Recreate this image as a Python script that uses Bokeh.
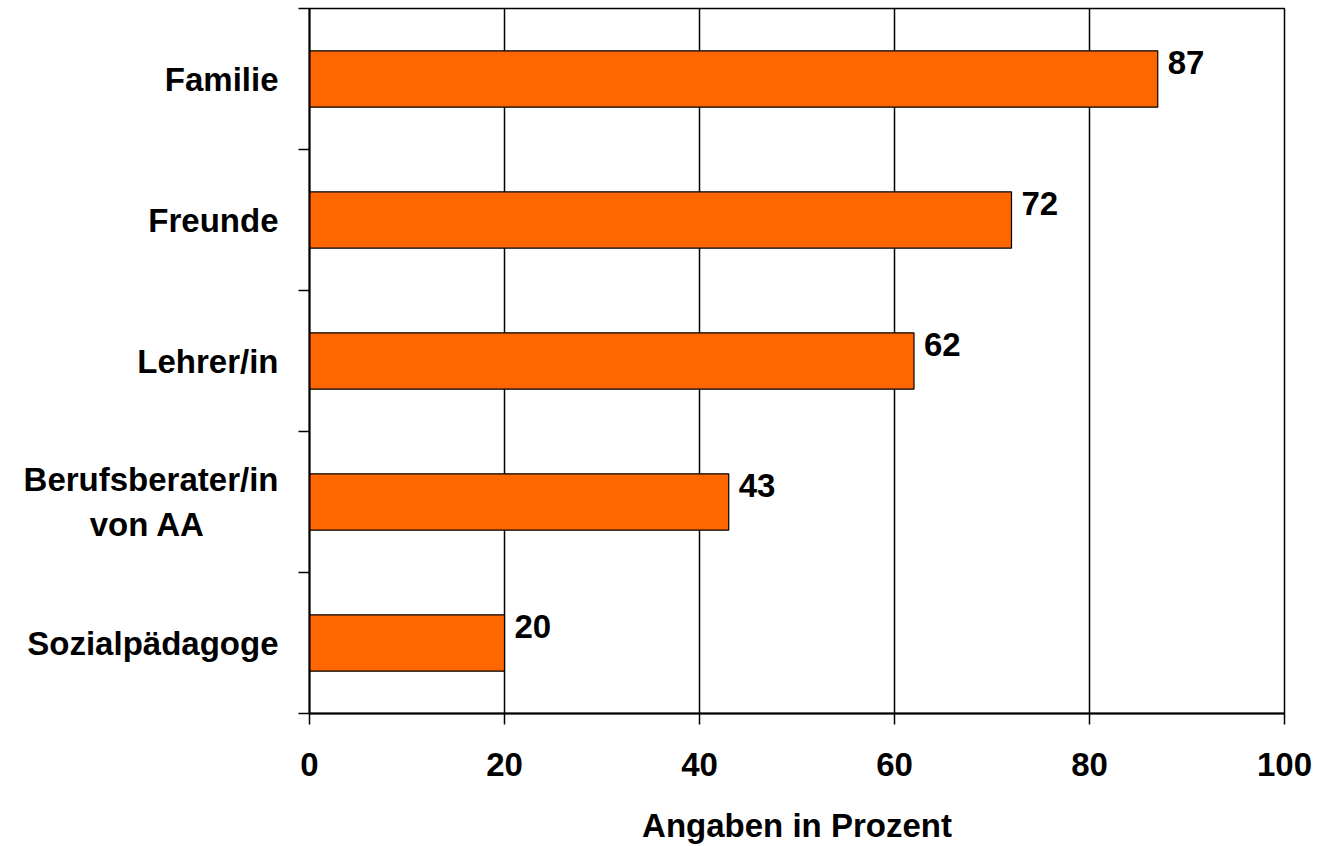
from bokeh.plotting import figure
from bokeh.models import ColumnDataSource, Range1d, FixedTicker
from bokeh.embed import file_html
from bokeh.resources import INLINE
from bokeh.core.properties import value

categories = ["Familie", "Freunde", "Lehrer/in", "Berufsberater/in\nvon AA", "Sozialpädagoge"]
values = [87, 72, 62, 43, 20]
x_ticks = [0, 20, 40, 60, 80, 100]
x_title = "Angaben in Prozent"

n = len(categories)
ypos = [n - i - 0.5 for i in range(n)]
src = ColumnDataSource(dict(y=ypos, v=values, lab=[str(v) for v in values], cat=categories))

FONT = "Liberation Sans"
FS = "33px"


def centred(label):
    # pad the shorter line with no-break spaces so the right-aligned lines look centred
    lines = label.split("\n")
    if len(lines) == 1:
        return label
    return "\n".join([lines[0]] + [ln + "\u00a0" * 8 for ln in lines[1:]])


p = figure(width=1318, height=846, output_backend="svg", toolbar_location=None,
           x_range=Range1d(0, 100), y_range=Range1d(0, n),
           min_border_left=309, min_border_right=34, min_border_top=8, min_border_bottom=133)
p.background_fill_color = "white"
p.border_fill_color = "white"
p.outline_line_color = "black"
p.outline_line_width = 1.5

p.hbar(y="y", right="v", left=0, height=0.4, source=src,
       fill_color="#FF6600", line_color="black", line_width=1.2)

p.text(x="v", y="y", text="lab", source=src, x_offset=10, y_offset=-17,
       text_font=value(FONT), text_font_style="bold", text_font_size=FS,
       text_baseline="middle", text_align="left", text_color="black")

# x axis
xa = p.xaxis[0]
xa.ticker = FixedTicker(ticks=x_ticks)
xa.axis_label = x_title
xa.axis_label_text_font = FONT
xa.axis_label_text_font_style = "bold"
xa.axis_label_text_font_size = FS
xa.axis_label_text_color = "black"
xa.axis_label_standoff = 28
xa.major_label_text_font = FONT
xa.major_label_text_font_style = "bold"
xa.major_label_text_font_size = FS
xa.major_label_text_color = "black"
xa.major_label_standoff = 28
xa.major_tick_out = 11
xa.major_tick_in = 0
xa.minor_tick_out = 0
xa.minor_tick_in = 0
xa.axis_line_width = 2
xa.major_tick_line_width = 1.5
xa.axis_line_color = "black"

# y axis
ya = p.yaxis[0]
ya.ticker = FixedTicker(ticks=ypos, minor_ticks=list(range(n + 1)))
ya.major_label_overrides = {y: centred(c) for y, c in zip(ypos, categories)}
ya.major_label_text_font = FONT
ya.major_label_text_font_style = "bold"
ya.major_label_text_font_size = FS
ya.major_label_text_color = "black"
ya.major_label_standoff = 20
ya.major_tick_out = 0
ya.major_tick_in = 0
ya.minor_tick_out = 11
ya.minor_tick_in = 0
ya.minor_tick_line_color = "black"
ya.minor_tick_line_width = 1.5
ya.axis_line_width = 2
ya.axis_line_color = "black"

p.xgrid.ticker = FixedTicker(ticks=x_ticks)
p.xgrid.grid_line_color = "black"
p.xgrid.grid_line_width = 1.5
p.ygrid.grid_line_color = None

open("out.html", "w").write(file_html(p, INLINE))
